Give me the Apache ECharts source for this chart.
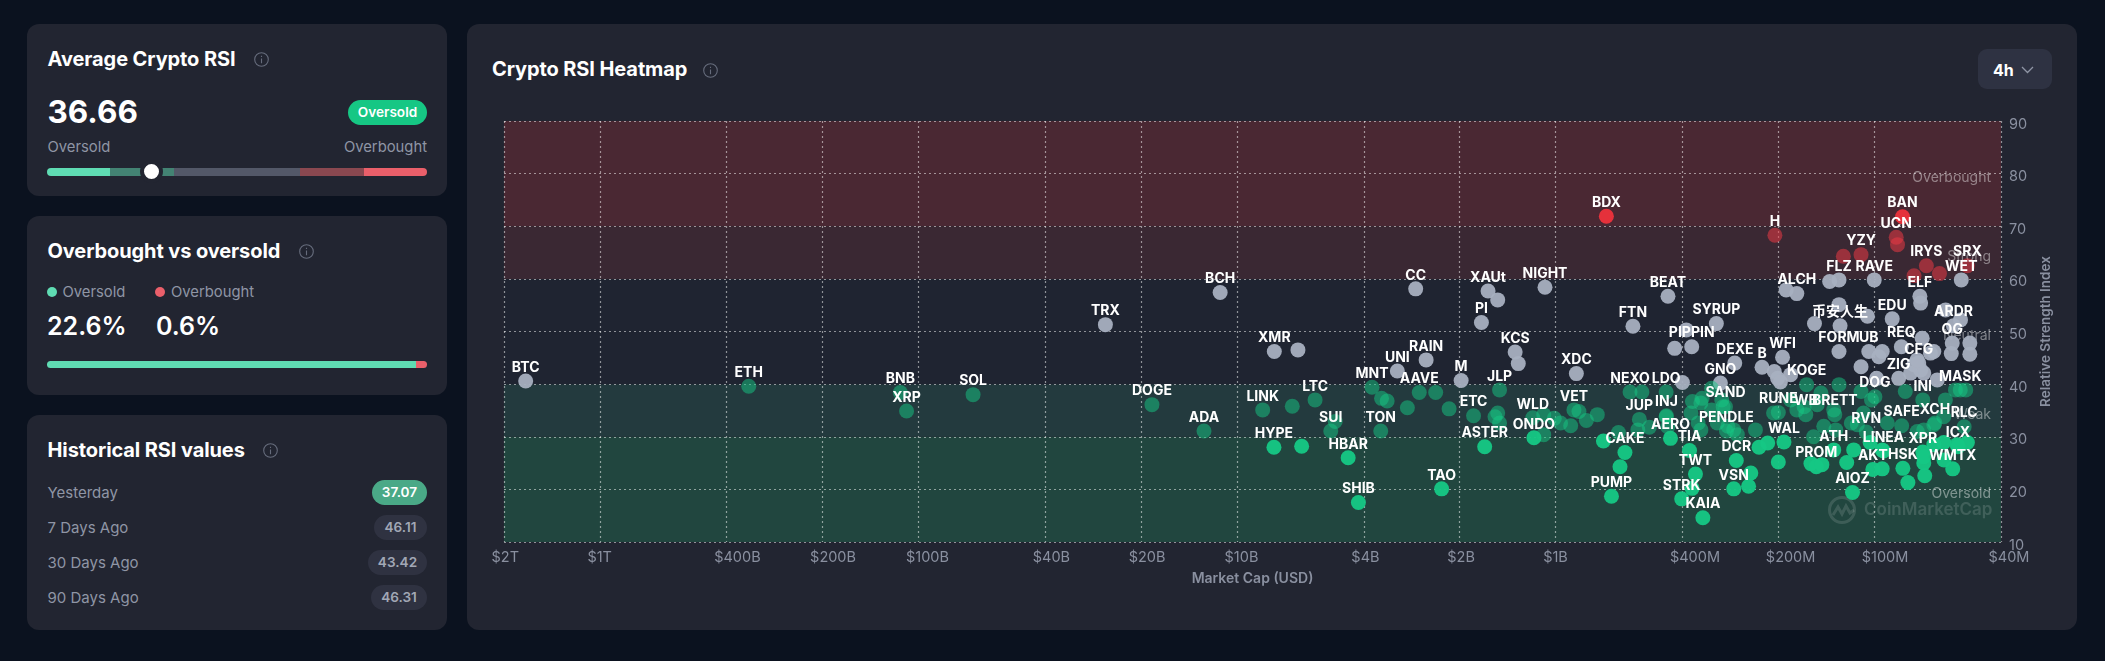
<!DOCTYPE html>
<html>

<head>
  <meta charset="utf-8">
  <title>Crypto RSI Heatmap</title>
  <style>
    html, body { margin: 0; padding: 0; background: #0b121f; width: 2105px; height: 661px; overflow: hidden; }
    body { font-family: Inter, "Noto Sans CJK SC", sans-serif; color: #fff; position: relative; }
    .card { position: absolute; background: #222531; border-radius: 12px; }
    .abs { position: absolute; white-space: nowrap; line-height: 1; }
    .title { font-size: 20px; font-weight: 700; letter-spacing: -0.1px; }
    .gray { color: #8f95a5; font-size: 14.8px; }
    .info { position: absolute; width: 15px; height: 15px; }
    .pill { position: absolute; height: 25px; line-height: 25px; border-radius: 13px; text-align: center; font-size: 13.6px; font-weight: 600; }
    .seg { position: absolute; top: 168px; height: 8px; }
    #chart { position: absolute; left: 467px; top: 24px; width: 1610px; height: 606px; }
  </style>
</head>

<body>
  <div class="card" style="left:27px;top:24px;width:420px;height:172px"></div>
  <div class="card" style="left:27px;top:216px;width:420px;height:179px"></div>
  <div class="card" style="left:27px;top:415px;width:420px;height:215px"></div>
  <div class="card" style="left:467px;top:24px;width:1610px;height:606px"></div>

  <div id="side"></div>
  <div id="chart"></div>

  <script src="https://cdn.jsdelivr.net/npm/echarts@6/dist/echarts.min.js"></script>
  <script type="text/javascript">
    // values, caps in USD millions
    const tickers = [
      'BTC', 'ETH', 'BNB', 'XRP', 'SOL', 'TRX', 'DOGE', 'BCH', 'ADA', 'LINK',
      'XMR', '', '', 'LTC', 'HYPE', '', '', 'SUI', 'HBAR', 'SHIB',
      'MNT', '', '', 'TON', 'UNI', 'RAIN', 'CC', 'AAVE', '', '',
      '', 'TAO', 'M', 'ETC', '', '', '', 'JLP', 'ASTER', 'PI',
      'XAUt', '', 'NIGHT', 'KCS', '', 'XDC', 'BDX', 'FTN', 'BEAT', '',
      'PIPPIN', '', 'SYRUP', 'NEXO', 'LDO', '', '', 'WLD', '', '',
      '', '', 'ONDO', '', 'VET', '', '', '', 'CAKE', '',
      '', '', 'JUP', '', '', 'PUMP', 'INJ', 'AERO', '', '',
      'TIA', 'TWT', 'STRK', '', 'KAIA', 'DCR', 'VSN', '', '', 'WAL',
      '', '', '', 'SAND', 'PENDLE', 'RUNE', 'WB', 'BRETT', 'GNO', 'DEXE',
      'B', 'WFI', '', '', '', '', 'KOGE', 'FORM', 'UB', '币安人生',
      '', '', '', 'EDU', '', 'ALCH', 'FLZ', '', '', 'YZY',
      'RAVE', 'UCN', 'BAN', '', 'IRYS', 'ELF', '', '', '', 'WET',
      'SRX', 'H', 'ARDR', '', '', 'OG', '', '', '', 'REQ',
      'CFG', '', '', 'ZIG', '', '', 'DOG', '', '', '',
      '', '', '', '', '', '', 'MASK', '', '', 'INI',
      '', '', '', '', '', 'XCH', 'RLC', 'SAFE', 'RVN', 'ATH',
      'LINEA', 'XPR', 'ICX', 'PROM', '', '', '', '', 'AKT', '',
      'HSK', 'WMTX', '', '', '', '', 'AIOZ', '', '', '',
      '', '', '', '', '', '', '', '', '', '',
      '', '', '', '', '', '', '', '', '', '',
      '', '', '', '', '', '', '', '', '', '',
      '', '', '', '', '', '', ''
    ];
    const marketCaps = [
      1710000, 341000, 114000, 109000, 67400, 25900, 18500, 11300, 12700, 8310,
      7640, 6440, 6710, 5690, 7660, 6270, 4920, 5080, 4480, 4160,
      3770, 3520, 3380, 3540, 3140, 2550, 2750, 2680, 2380, 2920,
      2160, 2280, 1980, 1810, 1550, 1520, 1500, 1500, 1670, 1710,
      1630, 1520, 1080, 1340, 1310, 861, 693, 572, 444, 423,
      374, 389, 313, 584, 450, 536, 400, 1180, 1090, 1010,
      965, 897, 1170, 1090, 876, 845, 801, 740, 606, 708,
      628, 635, 546, 508, 552, 668, 449, 436, 445, 450,
      380, 364, 402, 373, 345, 271, 276, 244, 248, 192,
      230, 216, 200, 293, 291, 200, 164, 133, 304, 274,
      225, 194, 206, 201, 183, 197, 163, 129, 104, 128,
      154, 129, 105, 87.8, 189, 175, 129, 138, 125, 110,
      100, 85.3, 81.5, 84.5, 68.6, 71.9, 71.5, 75, 62.4, 53.3,
      51, 205, 56.4, 59.7, 53.6, 56.9, 50.1, 57.3, 50.1, 82.2,
      72.5, 70.7, 65, 83.8, 110, 98.3, 99.5, 75, 71.5, 69.9,
      76.9, 73.3, 66.6, 63.4, 94.4, 96.7, 53.7, 51.6, 55.6, 70.4,
      79.9, 129, 147, 110, 102, 64.5, 52.2, 82, 106, 134,
      93.5, 70.4, 54.6, 152, 158, 146, 116, 122, 101, 94.4,
      81.3, 56.7, 69.4, 78.4, 60.4, 69.9, 117, 51, 54.9, 60.5,
      65, 73.3, 91, 113, 118, 144, 132, 155, 103, 134,
      151, 166, 175, 207, 183, 108, 59.8, 60.5, 69.9, 94.4,
      69.9, 65, 236, 276, 298, 324, 357, 350, 376, 311,
      288, 269, 350, 324, 347, 301, 372
    ];
    const rsiValues = [
      40.6, 39.6, 38.4, 34.9, 38.0, 51.3, 36.1, 57.4, 31.1, 35.1,
      46.2, 46.5, 35.8, 37.0, 28.0, 28.2, 32.9, 31.1, 26.0, 17.5,
      39.4, 37.3, 36.8, 31.1, 42.5, 44.6, 58.1, 38.4, 38.4, 35.5,
      35.3, 20.1, 40.7, 34.0, 33.8, 34.5, 32.6, 38.9, 28.1, 51.7,
      57.7, 56.0, 58.4, 46.1, 43.9, 42.0, 71.9, 51.0, 56.7, 46.8,
      47.1, 50.3, 51.5, 38.5, 38.5, 38.5, 40.3, 33.6, 34.2, 33.5,
      32.6, 32.1, 29.8, 30.4, 35.1, 34.8, 33.1, 34.2, 27.0, 29.2,
      24.3, 30.8, 33.3, 31.8, 31.3, 18.7, 34.0, 29.7, 31.9, 33.8,
      27.4, 22.9, 18.2, 20.2, 14.6, 25.5, 20.1, 23.1, 20.6, 29.0,
      28.0, 28.8, 25.2, 35.7, 31.1, 34.6, 34.2, 34.2, 40.2, 44.0,
      43.2, 45.1, 42.4, 41.1, 41.8, 40.4, 39.9, 46.2, 46.2, 51.1,
      51.5, 55.1, 52.9, 52.4, 57.9, 57.2, 59.8, 59.5, 64.3, 64.6,
      59.8, 67.9, 71.8, 66.5, 62.5, 56.7, 55.4, 60.6, 61.0, 59.8,
      62.5, 68.3, 51.1, 54.1, 52.2, 47.8, 47.8, 45.8, 45.7, 47.1,
      44.0, 48.7, 46.2, 41.1, 43.3, 41.1, 37.6, 43.7, 42.7, 42.1,
      42.1, 44.6, 45.9, 40.8, 46.2, 45.2, 38.9, 38.9, 38.9, 37.0,
      38.6, 39.9, 38.3, 38.6, 37.0, 32.6, 31.9, 32.1, 30.9, 27.5,
      27.3, 27.1, 28.1, 24.3, 24.9, 24.7, 27.5, 25.1, 23.8, 23.9,
      24.0, 23.9, 22.6, 21.3, 25.6, 25.0, 19.4, 28.9, 28.5, 28.9,
      32.3, 31.0, 32.6, 32.3, 32.6, 32.0, 31.3, 30.0, 28.9, 35.1,
      36.1, 35.7, 35.1, 34.5, 37.0, 34.5, 37.0, 33.8, 31.3, 27.5,
      26.2, 28.5, 31.3, 31.3, 35.7, 35.1, 32.6, 31.3, 34.5, 32.6,
      32.0, 30.4, 36.4, 39.2, 37.3, 37.0, 36.7
    ];

    // axis ticks
    const capTicks = [2e12, 1e12, 4e11, 2e11, 1e11, 4e10, 2e10, 1e10, 4e9, 2e9, 1e9, 4e8, 2e8, 1e8, 4e7];
    const capTickLabels = ['$2T', '$1T', '$400B', '$200B', '$100B', '$40B', '$20B', '$10B', '$4B', '$2B', '$1B', '$400M', '$200M', '$100M', '$40M'];

    // rsi zones, low to high
    const zoneNames = ['Oversold', 'Weak', 'Neutral', 'Strong', 'Overbought'];
    const zoneLows = [10, 30, 40, 60, 70];
    const zoneHighs = [30, 40, 60, 70, 90];
    const zoneFills = ['#21463f', '#233a3e', '#1f2431', '#3a2833', '#4a2833'];
    const zoneDots = ['rgba(22,199,132,.96)', 'rgba(22,199,132,.5)', 'rgba(168,176,192,.95)', 'rgba(234,57,67,.55)', 'rgba(234,50,60,.97)'];

    // side cards
    const averageRsi = '36.66';
    const oversoldShare = '22.6%';
    const overboughtShare = '0.6%';
    const historyLabels = ['Yesterday', '7 Days Ago', '30 Days Ago', '90 Days Ago'];
    const historyValues = ['37.07', '46.11', '43.42', '46.31'];
    const historyLefts = [372, 374, 368, 371];

    const infoIcon = (x, y) => `<svg class="info" style="left:${x - 7.5}px;top:${y - 7.5}px" viewBox="0 0 15 15" fill="none" stroke="#666c7c" stroke-width="1.1"><circle cx="7.5" cy="7.5" r="6.8"/><path d="M7.5 6.6v4.6M7.5 3.8v1.2"/></svg>`;
    const text = (x, y, s, cls, extra) => `<div class="abs ${cls}" style="left:${x}px;top:${y}px;${extra || ''}">${s}</div>`;
    const seg = (l, r, c, extra) => `<div class="seg" style="left:${l}px;width:${r - l}px;background:${c};${extra || ''}"></div>`;

    let side = '';
    side += text(47.5, 49, 'Average Crypto RSI', 'title') + infoIcon(261, 59);
    side += text(47.5, 96, averageRsi, '', 'font-size:31.5px;font-weight:700');
    side += `<div class="pill" style="left:348px;top:100px;width:79px;background:#16c784;color:#fff">Oversold</div>`;
    side += text(47.5, 140, 'Oversold', 'gray');
    side += text(0, 140, 'Overbought', 'gray', 'left:auto;right:1678px');
    side += seg(47, 110, '#5fdcb3', 'border-radius:4px 0 0 4px') + seg(110, 174, '#438373');
    side += seg(174, 300, '#535868') + seg(300, 364, '#8a4850') + seg(364, 427, '#ea5f6a', 'border-radius:0 4px 4px 0');
    side += `<div class="abs" style="left:140px;top:160px;width:15px;height:15px;border-radius:50%;background:#fff;border:4px solid #222531"></div>`;

    side += text(47.5, 241, 'Overbought vs oversold', 'title') + infoIcon(306, 251);
    side += `<div class="abs" style="left:47px;top:287px;width:10px;height:10px;border-radius:50%;background:#5fdcb3"></div>`;
    side += text(62.5, 285, 'Oversold', 'gray');
    side += `<div class="abs" style="left:155px;top:287px;width:10px;height:10px;border-radius:50%;background:#ea5f6a"></div>`;
    side += text(171, 285, 'Overbought', 'gray');
    side += text(47, 314, oversoldShare, '', 'font-size:25px;font-weight:600');
    side += text(156, 314, overboughtShare, '', 'font-size:25px;font-weight:600');
    side += `<div class="abs" style="left:47px;top:361px;width:380px;height:7px;border-radius:4px;background:linear-gradient(90deg,#5fdcb3 97.2%,#ea5f6a 97.2%)"></div>`;

    side += text(47.5, 440, 'Historical RSI values', 'title') + infoIcon(270, 450);
    historyLabels.forEach((lab, i) => {
      const cy = 492 + i * 35;
      side += text(47.5, cy - 7.5, lab, 'gray', 'font-size:15px');
      const bg = i === 0 ? 'background:#4aa987;color:#fff' : 'background:#2f3241;color:#a1a7b5';
      side += `<div class="pill" style="left:${historyLefts[i]}px;top:${cy - 12.5}px;width:${427 - historyLefts[i]}px;${bg}">${historyValues[i]}</div>`;
    });

    side += text(492, 59, 'Crypto RSI Heatmap', 'title') + infoIcon(710, 70);
    side += `<div class="abs" style="left:1978px;top:49px;width:74px;height:40px;border-radius:9px;background:#2e3242"></div>`;
    side += text(1993, 62, '4h', '', 'font-size:16px;font-weight:700');
    side += `<svg class="abs" style="left:2021px;top:66px" width="13" height="8" fill="none" stroke="#8f95a5" stroke-width="1.3"><path d="M1 1l5.5 5.5L12 1"/></svg>`;
    document.getElementById('side').innerHTML = side;

    function zoneIndex(rsi) {
      for (let i = zoneHighs.length - 1; i >= 0; i--) {
        if (rsi >= zoneLows[i]) return i;
      }
      return 0;
    }

    const points = tickers.map((t, i) => ({
      name: t,
      value: [marketCaps[i] * 1e6, rsiValues[i]],
      itemStyle: { color: zoneDots[zoneIndex(rsiValues[i])], opacity: 1 }
    }));

    const gridLine = { show: true, lineStyle: { type: [2, 3], color: 'rgba(255,255,255,.5)', width: 1.2 } };

    const chart = echarts.init(document.getElementById('chart'));
    chart.setOption({
      animation: false,
      textStyle: { fontFamily: 'Inter, "Noto Sans CJK SC", sans-serif' },
      grid: { left: 37, right: 76, top: 97, bottom: 88 },
      xAxis: {
        type: 'log',
        logBase: 10,
        inverse: true,
        min: 4e7,
        max: 2e12,
        z: 2,
        name: 'Market Cap (USD)',
        nameLocation: 'middle',
        nameGap: 30,
        nameTextStyle: { color: '#8a90a0', fontSize: 14, fontWeight: 600 },
        axisLine: { show: false },
        axisTick: { show: false, customValues: capTicks },
        splitLine: gridLine,
        axisLabel: {
          customValues: capTicks,
          color: '#8a90a0',
          fontSize: 14.5,
          margin: 8,
          align: 'left',
          padding: [0, 0, 0, -12.5],
          hideOverlap: false,
          showMinLabel: true,
          showMaxLabel: true,
          formatter: (v) => capTickLabels[capTicks.findIndex((c) => Math.abs(c - v) / c < 0.01)] || ''
        }
      },
      yAxis: {
        type: 'value',
        position: 'right',
        min: 10,
        max: 90,
        interval: 10,
        z: 2,
        name: 'Relative Strength Index',
        nameLocation: 'middle',
        nameRotate: 90,
        nameGap: 38,
        nameTextStyle: { color: '#8a90a0', fontSize: 13.5, fontWeight: 600 },
        axisLine: { show: false },
        axisTick: { show: false },
        splitLine: gridLine,
        axisLabel: { color: '#8a90a0', fontSize: 14.5, margin: 8, verticalAlign: 'top', padding: [-4, 0, 0, 0] }
      },
      graphic: [
        {
          type: 'group', left: 1360, top: 471, silent: true,
          children: [
            { type: 'circle', z: 2, shape: { cx: 14, cy: 14, r: 12.5 }, style: { fill: 'none', stroke: 'rgba(255,255,255,.13)', lineWidth: 3 } },
            { type: 'polyline', z: 2, shape: { points: [[5, 19], [10, 11], [14, 18], [18, 10], [22, 17], [26, 14]] }, style: { fill: 'none', stroke: 'rgba(255,255,255,.13)', lineWidth: 3 } },
            { type: 'text', z: 2, x: 36, y: 5, style: { text: 'CoinMarketCap', fill: 'rgba(255,255,255,.14)', font: '600 17px Inter' } }
          ]
        }
      ],
      series: [
        {
          type: 'scatter',
          z: 1,
          data: [],
          silent: true,
          markArea: {
            silent: true,
            data: zoneNames.map((n, i) => [
              {
                name: n,
                yAxis: zoneLows[i],
                itemStyle: { color: zoneFills[i], opacity: 1 },
                label: {
                  show: true,
                  position: 'insideRight',
                  distance: 10,
                  offset: [0, 4],
                  color: 'rgba(255,255,255,.42)',
                  fontSize: 14
                }
              },
              { yAxis: zoneHighs[i] }
            ])
          }
        },
        {
          type: 'scatter',
          z: 3,
          symbolSize: 15,
          data: points,
          label: {
            show: true,
            position: 'top',
            distance: 0,
            offset: [0, 1],
            color: '#fff',
            fontSize: 14,
            fontWeight: 700,
            opacity: 1,
            formatter: '{b}'
          },
          emphasis: { disabled: true }
        }
      ]
    });
    window.addEventListener('resize', chart.resize);
  </script>
</body>

</html>
